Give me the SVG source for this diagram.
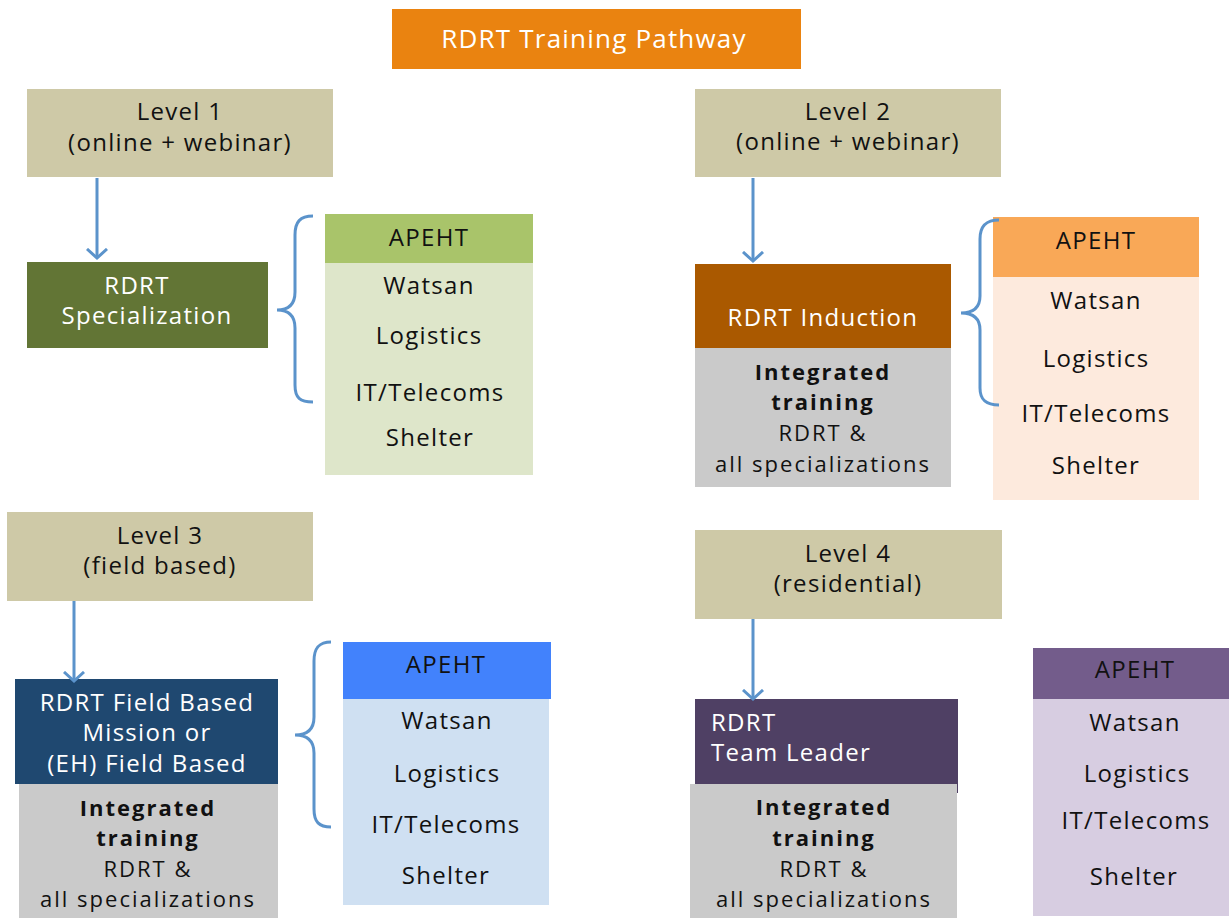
<svg xmlns="http://www.w3.org/2000/svg" width="1229" height="918" viewBox="0 0 1229 918">
<defs>
<style>
text{font-family:"Open Sans","Liberation Sans",sans-serif;font-size:24px;letter-spacing:1.3px;fill:#111;text-anchor:middle}
.w{fill:#fff}
.g{font-size:22px;letter-spacing:2px}
.b{font-weight:bold}
.lvl{fill:#CEC9A7}
.gray{fill:#CACACA}
.con{stroke:#5B93CB;stroke-width:3;fill:none}
</style>
<marker id="ah" markerUnits="userSpaceOnUse" markerWidth="14" markerHeight="22" refX="10" refY="11" orient="auto">
<path d="M1,1 L10,11 L1,21" fill="none" stroke="#5B93CB" stroke-width="3"/>
</marker>
</defs>
<rect width="1229" height="918" fill="#fff"/>

<g id="title">
<rect x="392" y="9" width="409" height="60" fill="#EA8310"/>
<text x="594" y="48" class="w" style="font-size:26px;letter-spacing:1.2px">RDRT Training Pathway</text>
</g>

<g id="level1">
<rect x="27" y="89" width="306" height="88" class="lvl"/>
<text x="180" y="120">Level 1</text>
<text x="180" y="151">(online + webinar)</text>
</g>
<g id="rdrt-specialization">
<rect x="27" y="262" width="241" height="86" fill="#627535"/>
<text x="137" y="294" class="w">RDRT</text>
<text x="147" y="324" class="w">Specialization</text>
</g>
<g id="list1">
<rect x="325" y="214" width="208" height="49" fill="#A9C46A"/>
<rect x="325" y="263" width="208" height="212" fill="#DEE6CA"/>
<text x="429" y="246">APEHT</text>
<text x="429" y="294">Watsan</text>
<text x="429" y="344">Logistics</text>
<text x="430" y="401">IT/Telecoms</text>
<text x="430" y="446">Shelter</text>
</g>

<g id="level2">
<rect x="695" y="89" width="306" height="88" class="lvl"/>
<text x="848" y="120">Level 2</text>
<text x="848" y="150">(online + webinar)</text>
</g>
<g id="rdrt-induction">
<rect x="695" y="264" width="256" height="84" fill="#AA5900"/>
<text x="823" y="326" class="w">RDRT Induction</text>
<rect x="695" y="348" width="256" height="139" class="gray"/>
<text x="823" y="380" class="g b">Integrated</text>
<text x="823" y="410" class="g b">training</text>
<text x="823" y="441" class="g">RDRT &amp;</text>
<text x="823" y="472" class="g">all specializations</text>
</g>
<g id="list2">
<rect x="993" y="217" width="206" height="60" fill="#F9A857"/>
<rect x="993" y="277" width="206" height="223" fill="#FDEADD"/>
<text x="1096" y="249">APEHT</text>
<text x="1096" y="309">Watsan</text>
<text x="1096" y="367">Logistics</text>
<text x="1096" y="422">IT/Telecoms</text>
<text x="1096" y="474">Shelter</text>
</g>

<g id="level3">
<rect x="7" y="512" width="306" height="89" class="lvl"/>
<text x="160" y="544">Level 3</text>
<text x="160" y="574">(field based)</text>
</g>
<g id="rdrt-field">
<rect x="15" y="679" width="263" height="105" fill="#1F4870"/>
<text x="147" y="711" class="w">RDRT Field Based</text>
<text x="147" y="741" class="w">Mission or</text>
<text x="147" y="772" class="w">(EH) Field Based</text>
<rect x="19" y="784" width="259" height="134" class="gray"/>
<text x="148" y="816" class="g b">Integrated</text>
<text x="148" y="846" class="g b">training</text>
<text x="148" y="877" class="g">RDRT &amp;</text>
<text x="148" y="907" class="g">all specializations</text>
</g>
<g id="list3">
<rect x="343" y="642" width="208" height="57" fill="#4282FC"/>
<rect x="343" y="699" width="206" height="206" fill="#CFE0F2"/>
<text x="446" y="673">APEHT</text>
<text x="447" y="729">Watsan</text>
<text x="447" y="782">Logistics</text>
<text x="446" y="833">IT/Telecoms</text>
<text x="446" y="884">Shelter</text>
</g>

<g id="level4">
<rect x="695" y="530" width="307" height="89" class="lvl"/>
<text x="848" y="562">Level 4</text>
<text x="848" y="592">(residential)</text>
</g>
<g id="rdrt-team-leader">
<rect x="695" y="699" width="263" height="94" fill="#4F4064"/>
<text x="711" y="731" class="w" style="text-anchor:start">RDRT</text>
<text x="711" y="761" class="w" style="text-anchor:start">Team Leader</text>
<rect x="690" y="784" width="267" height="134" class="gray"/>
<text x="824" y="815" class="g b">Integrated</text>
<text x="824" y="846" class="g b">training</text>
<text x="824" y="877" class="g">RDRT &amp;</text>
<text x="824" y="907" class="g">all specializations</text>
</g>
<g id="list4">
<rect x="1033" y="648" width="196" height="51" fill="#735C8B"/>
<rect x="1033" y="699" width="196" height="217" fill="#D7CDE1"/>
<text x="1135" y="678">APEHT</text>
<text x="1135" y="731">Watsan</text>
<text x="1137" y="782">Logistics</text>
<text x="1136" y="829">IT/Telecoms</text>
<text x="1134" y="885">Shelter</text>
</g>

<g id="connectors">
<line x1="97" y1="178" x2="97" y2="258" class="con" marker-end="url(#ah)"/>
<line x1="753" y1="178" x2="753" y2="261" class="con" marker-end="url(#ah)"/>
<line x1="74" y1="601" x2="74" y2="681" class="con" marker-end="url(#ah)"/>
<line x1="753" y1="619" x2="753" y2="699" class="con" marker-end="url(#ah)"/>
<path class="con" d="M313,216 C300,216 295,222 295,235 L295,292 C295,305 288,310 277,310 C288,310 295,315 295,328 L295,385 C295,398 300,402 313,402"/>
<path class="con" d="M999,220 C986,220 980,226 980,239 L980,296 C980,308 973,313 961,313 C973,313 980,318 980,330 L980,388 C980,400 986,405 999,405"/>
<path class="con" d="M331,642 C319,642 314,648 314,661 L314,717 C314,730 307,735 295,735 C307,735 314,740 314,753 L314,809 C314,822 319,827 331,827"/>
</g>
</svg>
